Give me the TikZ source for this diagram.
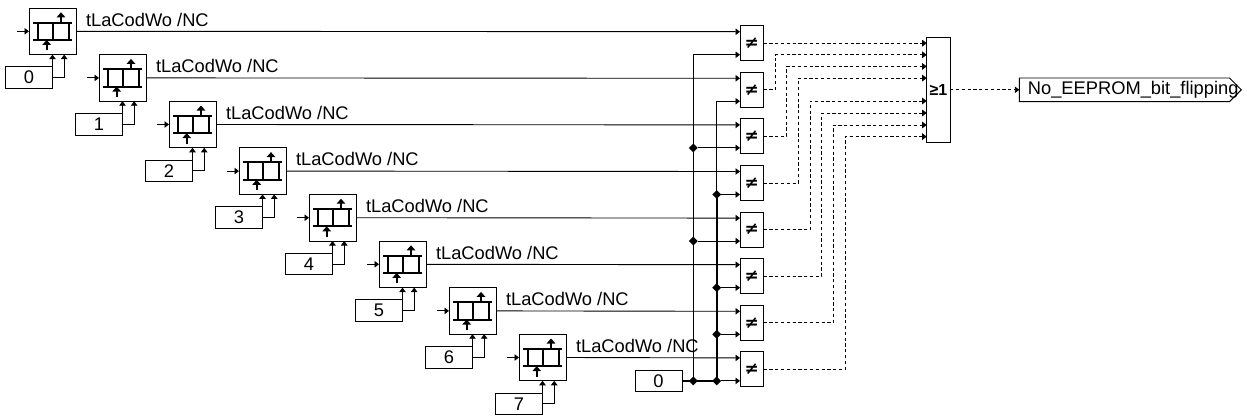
\documentclass[tikz,border=0pt]{standalone}
\usepackage{fontspec}
\setmainfont{Liberation Sans}
\newfontfamily\symfont{DejaVu Sans}
\usepackage{tikz}
\usetikzlibrary{arrows.meta, positioning, shapes.geometric, shapes.symbols}
\tikzset{
  muxbox/.style={
    rectangle, draw, line width=0.9pt, inner sep=0pt, outer sep=0pt,
    minimum width=47pt, minimum height=46.6pt,
    path picture={
      \begin{scope}[shift={(path picture bounding box.center)}, line width=2pt]
        \draw (-19.2pt,8.65pt) -- (19.2pt,8.65pt);
        \draw (-19.2pt,-8.65pt) -- (19.2pt,-8.65pt);
        \draw (-14.2pt,8.65pt) -- (-14.2pt,-8.65pt);
        \draw (0.8pt,8.65pt) -- (0.8pt,-8.65pt);
        \draw (16.8pt,8.65pt) -- (16.8pt,-8.65pt);
        \draw[-{Triangle[length=5pt,width=8.5pt]}] (8.5pt,8.65pt) -- (8.5pt,19pt);
        \draw[-{Triangle[length=5pt,width=8.5pt]}] (-5.8pt,-19pt) -- (-5.8pt,-8.65pt);
      \end{scope}
    }
  },
  idxbox/.style={
    rectangle, draw, line width=0.9pt, inner sep=0pt, outer sep=0pt,
    minimum width=47pt, minimum height=21.5pt, font=\fontsize{18.3}{20}\selectfont
  },
  cmpbox/.style={
    rectangle, draw, line width=0.9pt, inner sep=0pt, outer sep=0pt,
    minimum width=23.5pt, minimum height=35pt, font=\symfont\fontsize{17}{18}\selectfont\bfseries
  },
  orbox/.style={
    rectangle, draw, line width=0.9pt, inner sep=0pt, outer sep=0pt,
    minimum width=23.5pt, minimum height=105pt, font=\fontsize{16}{17}\selectfont\bfseries
  },
  outbox/.style={
    signal, signal to=east, signal pointer angle=90, draw, line width=0.9pt,
    inner sep=0pt, outer sep=0pt, minimum width=222pt, minimum height=23.6pt,
    font=\fontsize{18.3}{20}\selectfont
  },
  junc/.style={diamond, fill, inner sep=0pt, minimum size=9pt},
  sig/.style={-{Triangle[length=4.5pt,width=6.5pt]}, line width=0.9pt},
  dsig/.style={sig, dash pattern=on 3.2pt off 2.6pt},
  bus/.style={line width=1.2pt},
  tbus/.style={line width=1.8pt},
  siglabel/.style={font=\fontsize{18.3}{20}\selectfont, inner sep=0pt, outer sep=0pt},
}
\begin{document}
\begin{tikzpicture}[x=1pt, y=-1pt]
  \useasboundingbox (0,0) rectangle (1247,418);

  % Staggered selector blocks
  \node[muxbox, anchor=north west] at (29,8) (mux0) {};
  \node[muxbox, below right=0pt and 23pt of mux0] (mux1) {};
  \node[muxbox, below right=0pt and 23pt of mux1] (mux2) {};
  \node[muxbox, below right=0pt and 23pt of mux2] (mux3) {};
  \node[muxbox, below right=0pt and 23pt of mux3] (mux4) {};
  \node[muxbox, below right=0pt and 23pt of mux4] (mux5) {};
  \node[muxbox, below right=0pt and 23pt of mux5] (mux6) {};
  \node[muxbox, below right=0pt and 23pt of mux6] (mux7) {};

  % Index constants
  \node[idxbox, below=12.3pt of mux0, xshift=-23.5pt] (idx0) {0};
  \node[idxbox, below=12.3pt of mux1, xshift=-23.5pt] (idx1) {1};
  \node[idxbox, below=12.3pt of mux2, xshift=-23.5pt] (idx2) {2};
  \node[idxbox, below=12.3pt of mux3, xshift=-23.5pt] (idx3) {3};
  \node[idxbox, below=12.3pt of mux4, xshift=-23.5pt] (idx4) {4};
  \node[idxbox, below=12.3pt of mux5, xshift=-23.5pt] (idx5) {5};
  \node[idxbox, below=12.3pt of mux6, xshift=-23.5pt] (idx6) {6};
  \node[idxbox, below=12.3pt of mux7, xshift=-23.5pt] (idx7) {7};

  % Free input ends
  \coordinate[left=12pt of mux0] (in0);
  \coordinate[left=12pt of mux1] (in1);
  \coordinate[left=12pt of mux2] (in2);
  \coordinate[left=12pt of mux3] (in3);
  \coordinate[left=12pt of mux4] (in4);
  \coordinate[left=12pt of mux5] (in5);
  \coordinate[left=12pt of mux6] (in6);
  \coordinate[left=12pt of mux7] (in7);

  % Signal labels
  \node[siglabel, above right=5pt and 10pt of mux0.east] (lab0) {tLaCodWo /NC};
  \node[siglabel, above right=5pt and 10pt of mux1.east] (lab1) {tLaCodWo /NC};
  \node[siglabel, above right=5pt and 10pt of mux2.east] (lab2) {tLaCodWo /NC};
  \node[siglabel, above right=5pt and 10pt of mux3.east] (lab3) {tLaCodWo /NC};
  \node[siglabel, above right=5pt and 10pt of mux4.east] (lab4) {tLaCodWo /NC};
  \node[siglabel, above right=5pt and 10pt of mux5.east] (lab5) {tLaCodWo /NC};
  \node[siglabel, above right=5pt and 10pt of mux6.east] (lab6) {tLaCodWo /NC};
  \node[siglabel, above right=5pt and 10pt of mux7.east] (lab7) {tLaCodWo /NC};

  % Comparators
  \node[cmpbox, anchor=north west] at (740,25.7) (cmp0) {≠};
  \node[cmpbox, below=11.6pt of cmp0] (cmp1) {≠};
  \node[cmpbox, below=11.6pt of cmp1] (cmp2) {≠};
  \node[cmpbox, below=11.6pt of cmp2] (cmp3) {≠};
  \node[cmpbox, below=11.6pt of cmp3] (cmp4) {≠};
  \node[cmpbox, below=11.6pt of cmp4] (cmp5) {≠};
  \node[cmpbox, below=11.6pt of cmp5] (cmp6) {≠};
  \node[cmpbox, below=11.6pt of cmp6] (cmp7) {≠};

  % Lower comparator inputs
  \coordinate (low0) at ([yshift=-11.5pt]cmp0.west);
  \coordinate (low1) at ([yshift=-11.5pt]cmp1.west);
  \coordinate (low2) at ([yshift=-11.5pt]cmp2.west);
  \coordinate (low3) at ([yshift=-11.5pt]cmp3.west);
  \coordinate (low4) at ([yshift=-11.5pt]cmp4.west);
  \coordinate (low5) at ([yshift=-11.5pt]cmp5.west);
  \coordinate (low6) at ([yshift=-11.5pt]cmp6.west);
  \coordinate (low7) at ([yshift=-11.5pt]cmp7.west);

  % Reference constant and its two rails
  \node[idxbox, anchor=east] at (682,0 |- low7) (konst) {0};
  \node[junc] at (693.3,0 |- low7) (busA) {};
  \node[junc] at (716.7,0 |- low7) (busB) {};
  \node[junc] at (busA |- low2) (dot2) {};
  \node[junc] at (busB |- low3) (dot3) {};
  \node[junc] at (busA |- low4) (dot4) {};
  \node[junc] at (busB |- low5) (dot5) {};
  \node[junc] at (busB |- low6) (dot6) {};

  % OR block and output
  \node[orbox, anchor=north west] at (926.7,37.3) (orb) {≥1};
  \node[outbox, anchor=west] at (1019.3,0 |- orb.east) (flag)
    {\hspace*{8.5pt}\makebox[201.5pt][l]{No\_EEPROM\_bit\_flipping}};

  % Arrows into the selector blocks
  \draw[sig] (in0) -- (mux0.west);
  \draw[sig] (in1) -- (mux1.west);
  \draw[sig] (in2) -- (mux2.west);
  \draw[sig] (in3) -- (mux3.west);
  \draw[sig] (in4) -- (mux4.west);
  \draw[sig] (in5) -- (mux5.west);
  \draw[sig] (in6) -- (mux6.west);
  \draw[sig] (in7) -- (mux7.west);

  \draw[sig] (idx0.north east) -- (mux0.south);
  \draw[sig] (idx1.north east) -- (mux1.south);
  \draw[sig] (idx2.north east) -- (mux2.south);
  \draw[sig] (idx3.north east) -- (mux3.south);
  \draw[sig] (idx4.north east) -- (mux4.south);
  \draw[sig] (idx5.north east) -- (mux5.south);
  \draw[sig] (idx6.north east) -- (mux6.south);
  \draw[sig] (idx7.north east) -- (mux7.south);

  \draw[sig] (idx0.east) -| ([xshift=11.7pt]mux0.south);
  \draw[sig] (idx1.east) -| ([xshift=11.7pt]mux1.south);
  \draw[sig] (idx2.east) -| ([xshift=11.7pt]mux2.south);
  \draw[sig] (idx3.east) -| ([xshift=11.7pt]mux3.south);
  \draw[sig] (idx4.east) -| ([xshift=11.7pt]mux4.south);
  \draw[sig] (idx5.east) -| ([xshift=11.7pt]mux5.south);
  \draw[sig] (idx6.east) -| ([xshift=11.7pt]mux6.south);
  \draw[sig] (idx7.east) -| ([xshift=11.7pt]mux7.south);

  % Selector outputs to comparators
  \draw[sig] (mux0.east) -- ([yshift=11.5pt]cmp0.west);
  \draw[sig] (mux1.east) -- ([yshift=11.5pt]cmp1.west);
  \draw[sig] (mux2.east) -- ([yshift=11.5pt]cmp2.west);
  \draw[sig] (mux3.east) -- ([yshift=11.5pt]cmp3.west);
  \draw[sig] (mux4.east) -- ([yshift=11.5pt]cmp4.west);
  \draw[sig] (mux5.east) -- ([yshift=11.5pt]cmp5.west);
  \draw[sig] (mux6.east) -- ([yshift=11.5pt]cmp6.west);
  \draw[sig] (mux7.east) -- ([yshift=11.5pt]cmp7.west);

  % Constant rails
  \draw[bus] (konst.east) -- (busA.center);
  \draw[tbus] (busA.center) -- (busB.center);
  \draw[bus] (busA.center) -- (busA |- low0);
  \draw[sig] (busA |- low0) -- (low0);
  \draw[tbus] (busB.center) -- (busB |- low3);
  \draw[bus] (busB |- low3) -- (busB |- low1);
  \draw[sig] (busB |- low1) -- (low1);
  \draw[sig] (dot2) -- (low2);
  \draw[sig] (dot3) -- (low3);
  \draw[sig] (dot4) -- (low4);
  \draw[sig] (dot5) -- (low5);
  \draw[sig] (dot6) -- (low6);
  \draw[sig] (busB) -- (low7);

  % Comparator outputs
  \draw[dsig] (cmp0.east) -- (orb.west |- cmp0.east);
  \draw[dsig] (cmp1.east) -- ++(11.5,0) |- ([yshift=35pt]orb.west);
  \draw[dsig] (cmp2.east) -- ++(23.2,0) |- ([yshift=23.4pt]orb.west);
  \draw[dsig] (cmp3.east) -- ++(34.8,0) |- ([yshift=11.7pt]orb.west);
  \draw[dsig] (cmp4.east) -- ++(46.5,0) |- ([yshift=-11.2pt]orb.west);
  \draw[dsig] (cmp5.east) -- ++(58.2,0) |- ([yshift=-23.2pt]orb.west);
  \draw[dsig] (cmp6.east) -- ++(69.8,0) |- ([yshift=-35.2pt]orb.west);
  \draw[dsig] (cmp7.east) -- ++(81.5,0) |- ([yshift=-46.8pt]orb.west);
  \draw[dsig] (orb.east) -- (flag.west);

\end{tikzpicture}
\end{document}
